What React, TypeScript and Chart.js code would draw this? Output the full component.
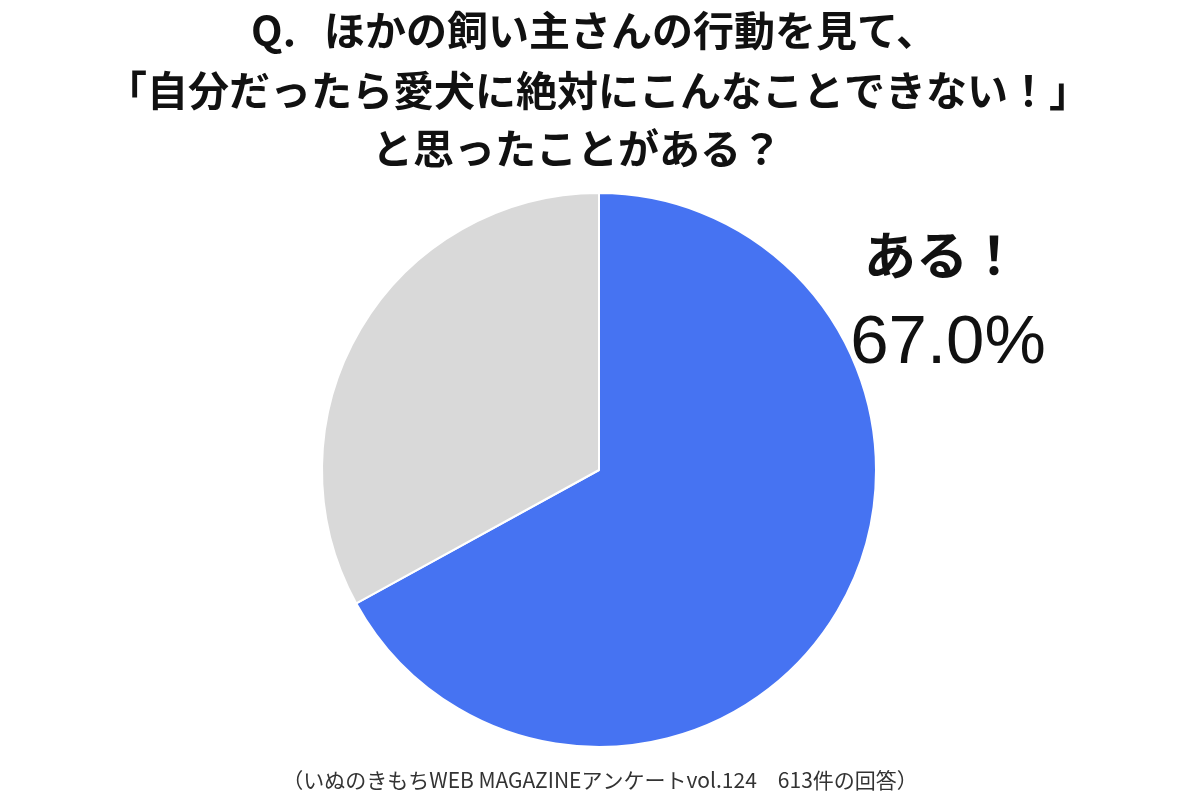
import React, { useEffect, useRef } from "react";
import { Chart, registerables } from "chart.js";

Chart.register(...registerables);

const titleLines = [
  "Q.   ほかの飼い主さんの行動を見て、",
  "「自分だったら愛犬に絶対にこんなことできない！」",
  "と思ったことがある？",
];
const categories = ["ある！", "ない"];
const values = [67.0, 33.0];
const colors = ["#4673F2", "#D9D9D9"];
const footnote = "（いぬのきもちWEB MAGAZINEアンケートvol.124　613件の回答）";

const JP = '"Noto Sans CJK JP", "Noto Sans", sans-serif';

const textPlugin = {
  id: "textPlugin",
  afterDraw(chart: any) {
    const ctx = chart.ctx;
    ctx.save();
    ctx.fillStyle = "#111111";
    ctx.textAlign = "center";
    ctx.textBaseline = "middle";
    ctx.font = `bold 41px ${JP}`;
    const titleX = [594, 598, 577];
    const titleY = [30, 90, 148];
    titleLines.forEach((t, i) => ctx.fillText(t, titleX[i], titleY[i]));

    ctx.font = `bold 52px ${JP}`;
    ctx.fillText(categories[0], 942, 255);
    ctx.font = `500 69px "Liberation Sans", Arial, sans-serif`;
    ctx.fillText(values[0].toFixed(1) + "%", 948, 344);

    ctx.fillStyle = "#333333";
    ctx.font = `21px ${JP}`;
    ctx.fillText(footnote, 600, 780);
    ctx.restore();
  },
};

export default function App() {
  const ref = useRef<HTMLCanvasElement | null>(null);
  useEffect(() => {
    if (!ref.current) return;
    const chart = new Chart(ref.current, {
      type: "pie",
      data: {
        labels: categories,
        datasets: [
          {
            data: values,
            backgroundColor: colors,
            borderColor: "#ffffff",
            borderWidth: 2,
          },
        ],
      },
      options: {
        responsive: false,
        animation: false,
        layout: { padding: { top: 192, bottom: 54, left: 321, right: 323 } },
        plugins: {
          legend: { display: false },
          tooltip: { enabled: false },
          title: { display: false },
        },
      },
      plugins: [textPlugin],
    });
    return () => chart.destroy();
  }, []);
  return (
    <div style={{ position: "fixed", left: 0, top: 0, width: 1200, height: 802, background: "#fff" }}>
      <canvas ref={ref} width={1200} height={802} style={{ width: 1200, height: 802 }} />
    </div>
  );
}
